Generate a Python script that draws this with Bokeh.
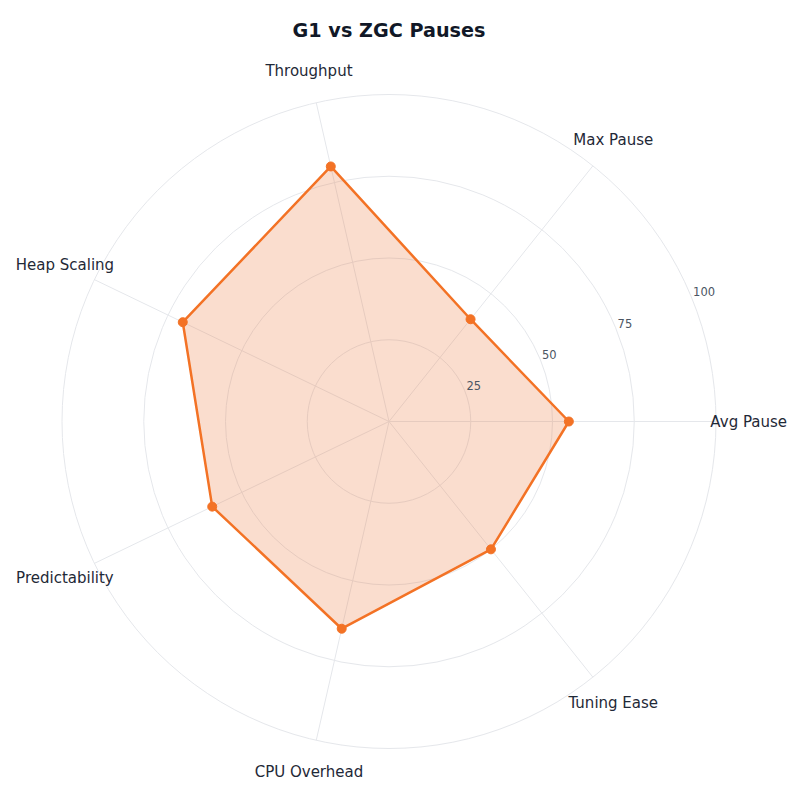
import numpy as np
from bokeh.plotting import figure
from bokeh.models import Range1d
from bokeh.core.properties import value
from bokeh.embed import file_html
from bokeh.resources import INLINE

title = "G1 vs ZGC Pauses"
categories = ["Avg Pause", "Max Pause", "Throughput", "Heap Scaling",
              "Predictability", "CPU Overhead", "Tuning Ease"]
values = [55, 40, 80, 70, 60, 65, 50]
ring_ticks = [25, 50, 75, 100]
tick_labels = ["25", "50", "75", "100"]

max_val = 100
label_r = 110
tick_angle = np.pi / 8

W = H = 800
scale = 3.27  # px per data unit
cx, cy = 388.5, 421.0
x_range = Range1d(-cx / scale, (W - cx) / scale)
y_range = Range1d(-(H - cy) / scale, cy / scale)

p = figure(width=W, height=H, x_range=x_range, y_range=y_range,
           output_backend="svg", toolbar_location=None,
           x_axis_location=None, y_axis_location=None, min_border=0)
p.grid.visible = False
p.outline_line_color = None
p.background_fill_color = "white"
p.border_fill_color = "white"

n = len(categories)
angles = np.array([2 * np.pi * i / n for i in range(n)])

grid_color = "#e5e7eb"
# rings
p.circle(x=[0] * len(ring_ticks), y=[0] * len(ring_ticks), radius=ring_ticks,
         fill_color=None, line_color=grid_color, line_width=1)
# spokes
p.segment(x0=[0] * n, y0=[0] * n,
          x1=list(max_val * np.cos(angles)), y1=list(max_val * np.sin(angles)),
          line_color=grid_color, line_width=1)

# data polygon
vals = np.array(values, dtype=float)
xs = vals * np.cos(angles)
ys = vals * np.sin(angles)
orange = "#f37225"
p.patch(x=list(xs), y=list(ys), fill_color="#eb773b", fill_alpha=0.25, line_color=None)
p.line(x=list(xs) + [xs[0]], y=list(ys) + [ys[0]], line_color=orange, line_width=2.5)
p.scatter(x=list(xs), y=list(ys), size=9, fill_color=orange, line_color=orange)

# tick labels
tr = np.array(ring_ticks, dtype=float)
p.text(x=list(tr * np.cos(tick_angle)), y=list(tr * np.sin(tick_angle)), text=tick_labels,
       text_align="left", text_baseline="bottom", x_offset=2,
       text_font=value("DejaVu Sans"), text_font_size=value("11.5px"),
       text_color="#4b5563")

# category labels
p.text(x=list(label_r * np.cos(angles)), y=list(label_r * np.sin(angles)), text=categories,
       text_align="center", text_baseline="middle",
       text_font=value("DejaVu Sans"), text_font_size=value("15px"),
       text_color="#1f2937")

# title
p.text(x=[0], y=[(cy - 30) / scale], text=[title],
       text_align="center", text_baseline="middle",
       text_font=value("DejaVu Sans"), text_font_style="bold",
       text_font_size=value("19.2px"), text_color="#111827")

open("out.html", "w").write(file_html(p, INLINE))
